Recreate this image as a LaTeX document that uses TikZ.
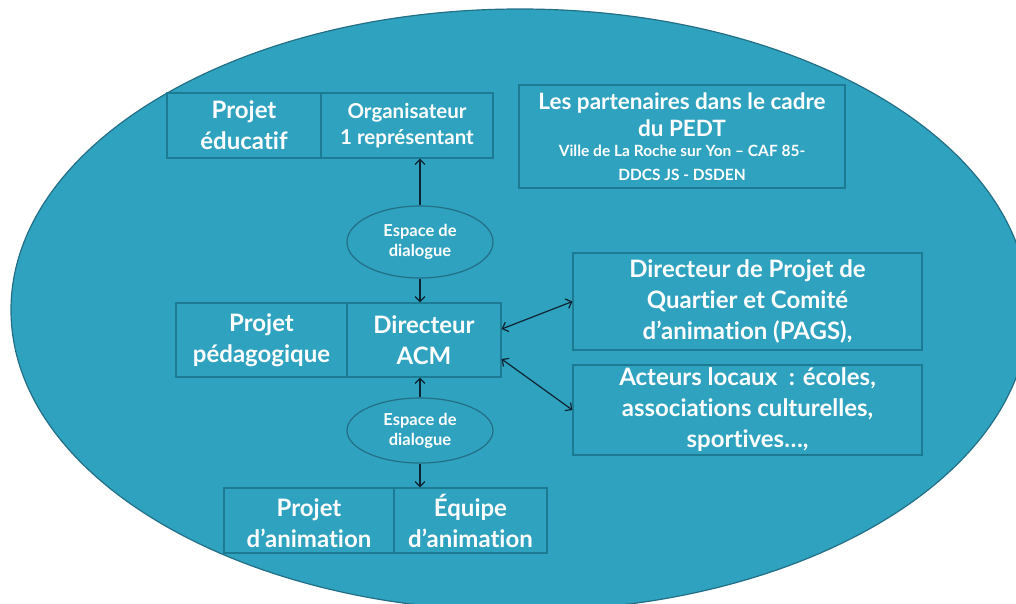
\documentclass[tikz,border=0pt]{standalone}
\usepackage{fontspec}
\setmainfont{Lato}[Ligatures={NoCommon}]
\usetikzlibrary{shapes.geometric,arrows.meta}
\definecolor{bgc}{HTML}{2EA2BF}
\definecolor{edgec}{HTML}{1D7A93}
\definecolor{rimc}{HTML}{236F86}
\definecolor{arrc}{HTML}{0F2433}
\tikzset{
  box/.style={draw=edgec, line width=1.2pt, fill=bgc, text=white, align=center,
    inner sep=0pt, font=\bfseries\fontsize{24}{31}\selectfont},
  smallbox/.style={box, font=\bfseries\fontsize{20.5}{26}\selectfont},
  bubble/.style={ellipse, draw=rimc, line width=1.2pt, fill=bgc, text=white, align=center,
    inner sep=0pt, font=\bfseries\fontsize{16.5}{20}\selectfont},
  arr/.style={draw=arrc, line width=1.2pt, -{Straight Barb[length=5pt,width=10pt]}},
  darr/.style={draw=arrc, line width=1.2pt, {Straight Barb[length=5pt,width=10pt]}-{Straight Barb[length=5pt,width=10pt]}}
}
\newcommand{\subtxt}{\fontsize{15.5}{20}\selectfont}
\begin{document}
\begin{tikzpicture}[x=1pt,y=-1pt]
\useasboundingbox (0,0) rectangle (1016,603);
\fill[white] (0,0) rectangle (1016,603);
\begin{scope}
\clip (0,0) rectangle (1016,603);
\draw[draw=rimc, line width=1.2pt, fill=bgc] (520,310) ellipse [x radius=509pt, y radius=301pt];
\end{scope}

\node[box, minimum width=154pt, minimum height=65pt] (pe) at (244,125.5) {Projet\\éducatif};
\node[smallbox, minimum width=172pt, minimum height=65pt] (org) at (407,125.5) {Organisateur\\1 représentant};
\node[smallbox, font=\bfseries\fontsize{22.5}{26.7}\selectfont, minimum width=326pt, minimum height=103pt] (part) at (682,136.5)
  {Les partenaires dans le cadre\\du PEDT\\[-6pt]{\subtxt Ville de La Roche sur Yon – CAF 85-}\\[-3.5pt]{\subtxt DDCS JS - DSDEN}};

\node[bubble, minimum width=146pt, minimum height=72pt] (esp1) at (420,242) {Espace de\\dialogue};

\node[box, minimum width=171pt, minimum height=74pt] (pp) at (261.5,340) {Projet\\pédagogique};
\node[box, minimum width=154pt, minimum height=74pt] (dir) at (424,340) {Directeur\\ACM};

\node[bubble, minimum width=146pt, minimum height=65pt] (esp2) at (420,430.5) {Espace de\\dialogue};

\node[box, minimum width=170pt, minimum height=65pt] (pa) at (309,520.5) {\vphantom{É}Projet\\d’animation};
\node[box, minimum width=153pt, minimum height=65pt] (eq) at (470.5,520.5) {Équipe\\d’animation};

\node[box, minimum width=349pt, minimum height=97pt] (dpq) at (747.5,301.5) {Directeur de Projet de\\Quartier et Comité\\d’animation (PAGS),};
\node[box, minimum width=349pt, minimum height=90pt] (act) at (747.5,410) {Acteurs locaux~ : écoles,\\associations culturelles,\\sportives…,};

\draw[arr] (esp1.north) -- (org.south -| esp1.north);
\draw[arr] (esp1.south) -- (dir.north -| esp1.south);
\draw[arr] (esp2.north) -- (dir.south -| esp2.north);
\draw[arr] (esp2.south) -- (eq.north -| esp2.south);
\draw[darr] ([yshift=11pt]dir.east) -- (dpq.west);
\draw[darr] ([yshift=-19pt]dir.east) -- (act.west);
\end{tikzpicture}
\end{document}
